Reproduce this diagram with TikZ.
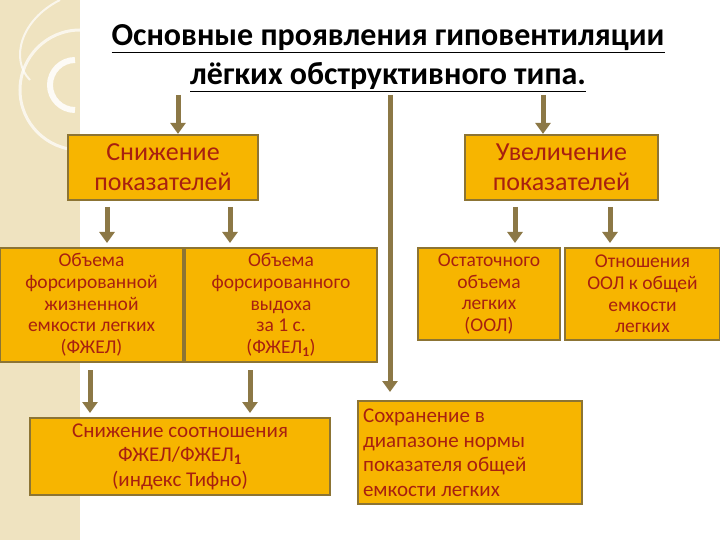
\documentclass[tikz,border=0pt]{standalone}
\usepackage{fontspec}
\setmainfont{Carlito}
\usetikzlibrary{arrows.meta}
\definecolor{boxfill}{HTML}{F7B500}
\definecolor{boxline}{HTML}{8C7434}
\definecolor{darkred}{HTML}{A82010}
\definecolor{arr}{HTML}{8C7846}
\definecolor{beige}{HTML}{EFE3C0}
\tikzset{
 box/.style={draw=boxline,line width=2.2pt,fill=boxfill,inner sep=2pt,align=center},
 arw/.style={draw=arr,line width=5pt,-{Triangle[width=15pt,length=11pt]}},
}
\begin{document}
\begin{tikzpicture}[x=1pt,y=-1pt]
\useasboundingbox (0,0) rectangle (720,540);
\fill[beige] (0,0) rectangle (80,540);
\draw[white,line width=3pt,opacity=0.7] (80,90) circle (60);
\draw[white!85!beige,line width=6pt] (75,110) arc (90:270:25);
\draw[white,line width=2pt,opacity=0.7] (60,0) .. controls (20,20) and (10,60) .. (30,80);
\node[align=center,font=\fontsize{32}{39}\selectfont\bfseries] (title) at (388,58)
 {\underline{Основные проявления гиповентиляции}\\\underline{лёгких обструктивного типа.}};
\node[box,minimum width=190pt,minimum height=65pt,text=darkred,font=\fontsize{26}{30}\selectfont] (dec) at (163,167.5) {Снижение\\показателей};
\node[box,minimum width=193pt,minimum height=65pt,text=darkred,font=\fontsize{26}{30}\selectfont] (inc) at (561.5,167.5) {Увеличение\\показателей};
\begin{scope}[every node/.style={box,text=darkred,font=\fontsize{19.5}{21.7}\selectfont}]
\node[minimum width=183pt,minimum height=114pt] (a) at (91.5,305) {Объема\\форсированной\\жизненной\\емкости легких\\(ФЖЕЛ)};
\node[minimum width=192pt,minimum height=114pt] (b) at (281,305) {Объема\\форсированного\\выдоха\\за 1 с.\\(ФЖЕЛ$_{\mathbf 1}$)};
\node[minimum width=142pt,minimum height=92pt] (c) at (489,294) {Остаточного\\объема\\легких\\(ООЛ)};
\node[minimum width=155pt,minimum height=92pt] (d) at (642.5,294) {Отношения\\ООЛ к общей\\емкости\\легких};
\end{scope}
\node[box,minimum width=300pt,minimum height=77pt,text=darkred,font=\fontsize{21}{24.5}\selectfont] (e) at (180,456.5) {Снижение соотношения\\ФЖЕЛ/ФЖЕЛ$_{\mathbf 1}$\\(индекс Тифно)};
\node[box,minimum height=103pt,text width=214pt,text=darkred,align=flush left,font=\fontsize{21}{24.5}\selectfont,anchor=north west,inner sep=5pt] (f) at (357,400) {Сохранение в\\диапазоне нормы\\показателя общей\\емкости легких};
\coordinate (t1) at (178,95); \coordinate (t2) at (543,95); \coordinate (t3) at (390,95);
\draw[arw] (t1) -- (dec.north -| t1);
\draw[arw] (t2) -- (inc.north -| t2);
\draw[arw] (t3) -- (390,392);
\draw[arw] (107,207) -- (107,243);
\draw[arw] (230,207) -- (230,243);
\draw[arw] (515,207) -- (515,243);
\draw[arw] (610,207) -- (610,243);
\draw[arw] (90,370) -- (90,413);
\draw[arw] (250,370) -- (250,413);
\end{tikzpicture}
\end{document}
